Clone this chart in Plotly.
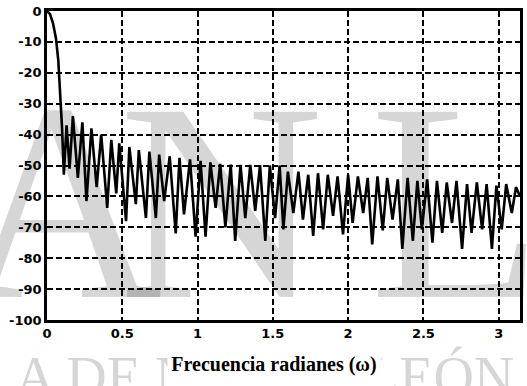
import plotly.graph_objects as go

# Frequency (rad) and magnitude (dB): main lobe, then peak/null pairs
freq = [0.0, 0.02, 0.04, 0.06, 0.075, 0.09, 0.10, 0.112,
        0.13, 0.15, 0.172, 0.205, 0.235, 0.262, 0.295, 0.33, 0.36, 0.40,
        0.427, 0.46, 0.48, 0.525, 0.547, 0.59, 0.61, 0.657, 0.68, 0.723,
        0.745, 0.778, 0.815, 0.855, 0.88, 0.91, 0.95, 0.987, 1.02, 1.053,
        1.085, 1.12, 1.15, 1.185, 1.22, 1.25, 1.285, 1.317, 1.35, 1.383,
        1.415, 1.45, 1.48, 1.515, 1.545, 1.57, 1.60, 1.636, 1.67, 1.70,
        1.735, 1.768, 1.80, 1.834, 1.865, 1.90, 1.93, 1.966, 2.0, 2.03,
        2.065, 2.10, 2.13, 2.16, 2.195, 2.23, 2.26, 2.295, 2.33, 2.36,
        2.395, 2.43, 2.46, 2.49, 2.525, 2.56, 2.59, 2.625, 2.655, 2.69,
        2.72, 2.757, 2.79, 2.82, 2.855, 2.89, 2.92, 2.955, 2.985, 3.02,
        3.05, 3.087, 3.115, 3.1416]
mag_db = [0.0, -1.0, -4.0, -9.0, -16.0, -27.0, -38.0, -53.0,
          -37.0, -51.0, -34.0, -54.0, -36.0, -61.5, -38.0, -57.0, -40.0, -63.7,
          -41.7, -59.0, -42.8, -68.0, -44.0, -62.5, -45.0, -67.0, -45.5, -67.0,
          -46.5, -61.5, -47.0, -72.0, -47.5, -65.8, -48.0, -73.0, -48.5, -73.0,
          -49.0, -63.7, -49.5, -70.0, -49.7, -74.4, -49.8, -67.0, -49.8, -64.7,
          -49.9, -74.4, -50.0, -67.0, -50.0, -70.7, -52.0, -65.4, -52.0, -67.5,
          -53.0, -72.8, -52.5, -70.7, -53.0, -66.3, -53.5, -72.3, -53.0, -68.6,
          -53.5, -65.4, -54.0, -75.5, -53.5, -71.0, -54.0, -67.5, -54.5, -77.0,
          -54.0, -74.4, -55.0, -70.7, -54.5, -75.0, -55.0, -71.8, -55.5, -68.6,
          -55.0, -77.0, -56.0, -71.8, -55.5, -70.7, -56.0, -77.0, -56.5, -70.7,
          -56.0, -65.4, -57.0, -60.0]

x_ticks = [0, 0.5, 1, 1.5, 2, 2.5, 3]
x_tick_labels = ["0", "0.5", "1", "1.5", "2", "2.5", "3"]
y_ticks = [0, -10, -20, -30, -40, -50, -60, -70, -80, -90, -100]
y_tick_labels = ["0", "-10", "-20", "-30", "-40", "-50", "-60", "-70", "-80", "-90", "-100"]

fig = go.Figure()
fig.add_trace(go.Scatter(
    x=freq, y=mag_db, mode="lines",
    line=dict(color="black", width=2.6, shape="linear"),
    showlegend=False, hoverinfo="skip"))

tick_font = dict(family="DejaVu Sans", size=13, color="black", weight="bold")
axis_common = dict(
    showline=True, linecolor="black", linewidth=2.5, mirror=True,
    showgrid=True, gridcolor="black", gridwidth=1.8, griddash="6px,3px",
    zeroline=False, ticks="", tickfont=tick_font)

fig.update_xaxes(range=[0, 3.1416], tickvals=x_ticks, ticktext=x_tick_labels, **axis_common)
fig.update_yaxes(range=[-100, 0], tickvals=y_ticks, ticktext=y_tick_labels, **axis_common)

wm = "rgba(0,0,0,0.16)"
big = dict(family="Liberation Serif", size=283, color=wm)
annotations = [
    dict(text="A", x=0.027, y=0.385, xref="paper", yref="paper", xanchor="center", yanchor="middle",
         showarrow=False, font=big),
    dict(text="N", x=0.368, y=0.385, xref="paper", yref="paper", xanchor="center", yanchor="middle",
         showarrow=False, font=big),
    dict(text="L", x=0.865, y=0.385, xref="paper", yref="paper", xanchor="center", yanchor="middle",
         showarrow=False, font=big),
    dict(text="A DE NUEVO LEÓN", x=0.46, y=-0.078, xref="paper", yref="paper",
         xanchor="center", yanchor="top", showarrow=False,
         font=dict(family="Liberation Serif", size=56, color=wm)),
    dict(text="Frecuencia radianes (ω)", x=0.48, y=-0.10, xref="paper", yref="paper",
         xanchor="center", yanchor="top", showarrow=False, bgcolor="white",
         width=210, height=50, valign="top",
         font=dict(family="Liberation Serif", size=20, color="black", weight="bold")),
]

fig.update_layout(
    width=527, height=386,
    margin=dict(l=47, r=4, t=8, b=66),
    paper_bgcolor="white", plot_bgcolor="white",
    annotations=annotations,
)

fig.write_html("out.html")
